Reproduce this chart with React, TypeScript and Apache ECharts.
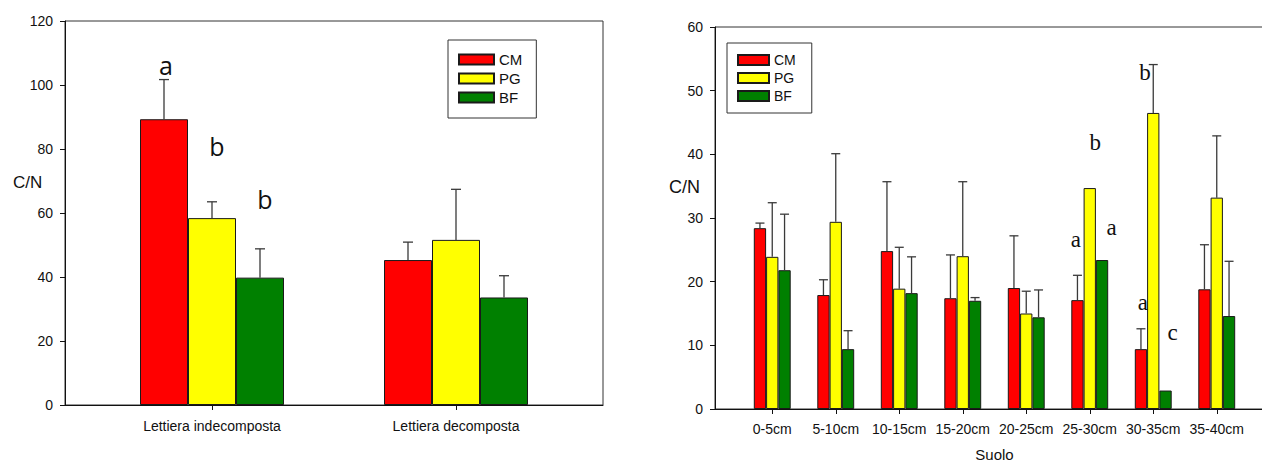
import React, { useEffect, useRef } from 'react';
import * as echarts from 'echarts';

// ---------- data ----------
const seriesNames = ['CM', 'PG', 'BF'];
const seriesColors = ['#FF0000', '#FFFF00', '#008000'];

const leftCategories = ['Lettiera indecomposta', 'Lettiera decomposta'];
const leftCM = [89.3, 45.3];
const leftPG = [58.4, 51.6];
const leftBF = [39.8, 33.6];
const leftCMErr = [12.4, 5.6];
const leftPGErr = [5.1, 15.8];
const leftBFErr = [9.0, 6.8];
const leftYTicks = { min: 0, max: 120, interval: 20 };

const rightCategories = ['0-5cm', '5-10cm', '10-15cm', '15-20cm', '20-25cm', '25-30cm', '30-35cm', '35-40cm'];
const rightCM = [28.4, 17.9, 24.8, 17.4, 19.0, 17.1, 9.4, 18.8];
const rightPG = [23.9, 29.4, 18.9, 24.0, 15.0, 34.7, 46.5, 33.2];
const rightBF = [21.8, 9.4, 18.2, 17.0, 14.4, 23.4, 2.9, 14.6];
const rightCMErr = [0.8, 2.4, 10.9, 6.8, 8.2, 3.9, 3.2, 7.0];
const rightPGErr = [8.5, 10.7, 6.5, 11.7, 3.5, 0, 7.6, 9.7];
const rightBFErr = [8.8, 2.9, 5.7, 0.5, 4.3, 0, 0, 8.6];
const rightYTicks = { min: 0, max: 60, interval: 10 };

// significance letters: text, category index, bar (series) index, y value
const leftLetters = ['a', 'b', 'b'];
const leftLetterCat = [0, 0, 0];
const leftLetterBar = [0, 1, 2];
const leftLetterY = [106.3, 81, 64.4];
const leftLetterNudge = [2, 5, 5];

const rightLetters = ['a', 'b', 'a', 'b', 'a', 'c'];
const rightLetterCat = [5, 5, 5, 6, 6, 6];
const rightLetterBar = [0, 1, 2, 1, 0, 2];
const rightLetterY = [26.7, 41.8, 28.5, 52.8, 16.7, 12.0];
const rightLetterNudge = [-1.5, 5.5, 9.5, -8.3, 2, 7];

const FONT = '"Liberation Sans", Arial, sans-serif';
const BAR_L = 48;
const BAR_R = 12.3;

function errSeries(axisIdx: number, values: number[], errs: number[], offset: number, cap: number) {
  return {
    type: 'custom',
    xAxisIndex: axisIdx,
    yAxisIndex: axisIdx,
    silent: true,
    z: 3,
    data: values.map((v, i) => [i, v, errs[i]]),
    renderItem: (params: any, api: any) => {
      const e = api.value(2);
      if (!e) return null;
      const i = api.value(0);
      const v = api.value(1);
      const p0 = api.coord([i, v]);
      const p1 = api.coord([i, v + e]);
      const x = p0[0] + offset;
      const st = { stroke: '#3a3a3a', lineWidth: 1.3 };
      return {
        type: 'group',
        children: [
          { type: 'line', shape: { x1: x, y1: p0[1], x2: x, y2: p1[1] }, style: st },
          { type: 'line', shape: { x1: x - cap / 2, y1: p1[1], x2: x + cap / 2, y2: p1[1] }, style: st },
        ],
      };
    },
  };
}

function letterSeries(
  axisIdx: number,
  texts: string[],
  cats: number[],
  bars: number[],
  ys: number[],
  nudges: number[],
  barW: number,
  fontSize: number,
  fontFamily: string
) {
  return {
    type: 'custom',
    xAxisIndex: axisIdx,
    yAxisIndex: axisIdx,
    silent: true,
    z: 4,
    data: cats.map((c, k) => [c, ys[k]]),
    renderItem: (params: any, api: any) => {
      const k = params.dataIndex;
      const p = api.coord([api.value(0), api.value(1)]);
      return {
        type: 'text',
        x: p[0] + (bars[k] - 1) * barW + nudges[k],
        y: p[1],
        style: {
          text: texts[k],
          fontSize,
          fontFamily,
          fill: '#111',
          align: 'center',
          verticalAlign: 'middle',
        },
      };
    },
  };
}

function frameAxes(gridIdx: number, ticks: { min: number; max: number; interval: number }) {
  const x = {
    type: 'value',
    gridIndex: gridIdx,
    min: 0,
    max: 1,
    axisLine: { show: true, onZero: false, lineStyle: { color: '#111', width: 1 } },
    axisTick: { show: false },
    axisLabel: { show: false },
    splitLine: { show: false },
  };
  const y = {
    type: 'value',
    gridIndex: gridIdx,
    min: ticks.min,
    max: ticks.max,
    interval: ticks.interval,
    axisLine: { show: true, lineStyle: { color: '#111', width: 1 } },
    axisTick: { show: true, inside: false, length: 5, lineStyle: { color: '#111' } },
    axisLabel: { show: true, margin: 12, fontSize: 14, color: '#111', fontFamily: FONT },
    splitLine: { show: false },
  };
  return { x, y };
}

function barAxes(gridIdx: number, cats: string[], ticks: { min: number; max: number }, margin: number) {
  const x = {
    type: 'category',
    gridIndex: gridIdx,
    data: cats,
    boundaryGap: true,
    axisLine: { show: false },
    axisTick: { show: true, alignWithLabel: true, length: 5, lineStyle: { color: '#111' } },
    axisLabel: { show: true, margin, fontSize: 14, color: '#111', fontFamily: FONT, interval: 0 },
    splitLine: { show: false },
  };
  const y = {
    type: 'value',
    gridIndex: gridIdx,
    min: ticks.min,
    max: ticks.max,
    show: false,
    splitLine: { show: false },
  };
  return { x, y };
}

function barSeries(axisIdx: number, name: string, color: string, data: number[], width: number) {
  return {
    type: 'bar',
    name,
    xAxisIndex: axisIdx,
    yAxisIndex: axisIdx,
    data,
    barWidth: width,
    barGap: '0%',
    z: 2,
    itemStyle: { color, borderColor: '#1a1a1a', borderWidth: 1 },
  };
}

export default function App() {
  const ref = useRef<HTMLDivElement>(null);

  useEffect(() => {
    if (!ref.current) return;
    const chart = echarts.init(ref.current, undefined, { renderer: 'svg' });

    const lf = frameAxes(0, leftYTicks);
    const lb = barAxes(1, leftCategories, leftYTicks, 14);
    const rf = frameAxes(2, rightYTicks);
    const rb = barAxes(3, rightCategories, rightYTicks, 13);
    (rf.x as any).name = 'Suolo';
    (rf.x as any).nameLocation = 'middle';
    (rf.x as any).nameGap = 38;
    (rf.x as any).nameTextStyle = { fontSize: 15, color: '#111', fontFamily: FONT };

    const leftVals = [leftCM, leftPG, leftBF];
    const leftErrs = [leftCMErr, leftPGErr, leftBFErr];
    const rightVals = [rightCM, rightPG, rightBF];
    const rightErrs = [rightCMErr, rightPGErr, rightBFErr];

    const gridBase = { outerBoundsMode: 'none', containLabel: false };

    const option: any = {
      animation: false,
      backgroundColor: '#ffffff',
      grid: [
        { ...gridBase, left: 65, top: 21, width: 538, height: 384, show: true, borderColor: '#333', borderWidth: 1, backgroundColor: 'transparent' },
        { ...gridBase, left: 90, top: 21, width: 488, height: 384 },
        { ...gridBase, left: 715, top: 27, width: 559, height: 382, show: true, borderColor: '#333', borderWidth: 1, backgroundColor: 'transparent' },
        { ...gridBase, left: 740.5, top: 27, width: 508, height: 382 },
      ],
      xAxis: [lf.x, lb.x, rf.x, rb.x],
      yAxis: [lf.y, lb.y, rf.y, rb.y],
      legend: [
        {
          data: seriesNames,
          orient: 'vertical',
          left: 448,
          top: 40,
          itemWidth: 35,
          itemHeight: 10,
          itemGap: 4,
          padding: [12, 14, 13, 10],
          borderColor: '#333',
          borderWidth: 1,
          icon: 'rect',
          selectedMode: false,
          textStyle: { fontSize: 15, color: '#111', fontFamily: FONT, lineHeight: 15 },
        },
        {
          data: seriesNames,
          orient: 'vertical',
          left: 727,
          top: 43,
          itemWidth: 31,
          itemHeight: 10,
          itemGap: 4,
          padding: [10, 16, 10, 10],
          borderColor: '#333',
          borderWidth: 1,
          icon: 'rect',
          selectedMode: false,
          textStyle: { fontSize: 14, color: '#111', fontFamily: FONT, lineHeight: 14 },
        },
      ],
      graphic: [
        { type: 'text', left: 13, top: 174, style: { text: 'C/N', fontSize: 17, fill: '#111', fontFamily: FONT } },
        { type: 'text', left: 669, top: 178, style: { text: 'C/N', fontSize: 18, fill: '#111', fontFamily: FONT } },
      ],
      series: [
        ...seriesNames.map((n, s) => barSeries(1, n, seriesColors[s], leftVals[s], BAR_L)),
        ...seriesNames.map((n, s) => errSeries(1, leftVals[s], leftErrs[s], (s - 1) * BAR_L, 10)),
        letterSeries(1, leftLetters, leftLetterCat, leftLetterBar, leftLetterY, leftLetterNudge, BAR_L, 25, '"Open Sans", "Noto Sans", sans-serif'),
        ...seriesNames.map((n, s) => barSeries(3, n, seriesColors[s], rightVals[s], BAR_R)),
        ...seriesNames.map((n, s) => errSeries(3, rightVals[s], rightErrs[s], (s - 1) * BAR_R, 9)),
        letterSeries(3, rightLetters, rightLetterCat, rightLetterBar, rightLetterY, rightLetterNudge, BAR_R, 23, '"Liberation Serif", "DejaVu Serif", serif'),
      ],
    };

    chart.setOption(option);
    return () => chart.dispose();
  }, []);

  return <div ref={ref} style={{ position: 'fixed', left: 0, top: 0, width: 1262, height: 464, background: '#fff' }} />;
}
